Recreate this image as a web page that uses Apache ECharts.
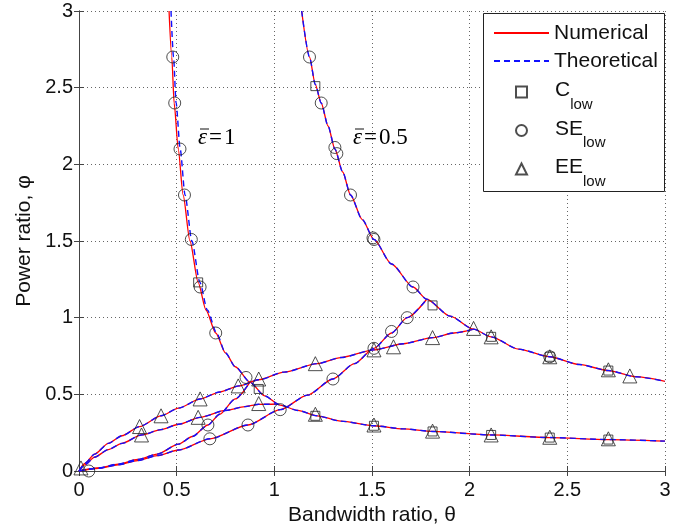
<!DOCTYPE html>
<html>
<head>
<meta charset="utf-8">
<script src="https://cdn.jsdelivr.net/npm/echarts@6/dist/echarts.min.js"></script>
<style>html,body{margin:0;padding:0;background:#fff}#c{width:683px;height:529px}</style>
</head>
<body>
<div id="c"></div>
<script>
// ---- data ----
const xTicks = [0, 0.5, 1, 1.5, 2, 2.5, 3];
const yTicks = [0, 0.5, 1, 1.5, 2, 2.5, 3];

// epsilon = 1, decreasing branch (numerical)
const eps1Num = [[0.461,3.0],[0.475,2.7],[0.487,2.4],[0.508,2.1],[0.533,1.8],[0.568,1.5],[0.61,1.23],[0.65,1.05],[0.70,0.90],[0.75,0.77],[0.80,0.68],[0.875,0.58],[0.95,0.49],[1.03,0.43],[1.12,0.395],[1.22,0.36],[1.34,0.325],[1.51,0.295],[1.66,0.275],[1.81,0.258],[2.11,0.235],[2.41,0.218],[2.71,0.205],[3.0,0.195]];
// epsilon = 1, decreasing branch (theoretical)
const eps1Theo = [[0.471,3.0],[0.484,2.7],[0.497,2.4],[0.518,2.1],[0.543,1.8],[0.578,1.5],[0.619,1.23],[0.657,1.05],[0.704,0.90],[0.75,0.77],[0.80,0.68],[0.875,0.58],[0.95,0.49],[1.03,0.43],[1.12,0.395],[1.22,0.36],[1.34,0.325],[1.51,0.295],[1.66,0.275],[1.81,0.258],[2.11,0.235],[2.41,0.218],[2.71,0.205],[3.0,0.195]];
// epsilon = 0.5, decreasing branch
const eps05 = [[1.14,3.0],[1.18,2.70],[1.21,2.52],[1.24,2.40],[1.275,2.25],[1.31,2.10],[1.35,1.95],[1.39,1.80],[1.45,1.64],[1.51,1.51],[1.6,1.35],[1.71,1.20],[1.78,1.12],[1.9,1.01],[2.02,0.925],[2.11,0.875],[2.25,0.795],[2.41,0.745],[2.56,0.695],[2.71,0.655],[2.85,0.615],[3.0,0.585]];
// rising branches from the origin
const eeEps05 = [[0,0],[0.03,0.05],[0.08,0.11],[0.15,0.18],[0.22,0.23],[0.31,0.29],[0.42,0.36],[0.51,0.41],[0.62,0.47],[0.72,0.515],[0.82,0.555],[0.92,0.595],[1.05,0.645],[1.22,0.70],[1.34,0.74],[1.51,0.79],[1.66,0.83],[1.81,0.87],[1.92,0.90],[2.02,0.925]];
const eeEps1 = [[0,0],[0.03,0.04],[0.08,0.09],[0.15,0.14],[0.22,0.18],[0.32,0.235],[0.42,0.27],[0.51,0.305],[0.62,0.35],[0.75,0.395],[0.85,0.42],[0.92,0.435],[1.02,0.437]];
const seEps1 = [[0,0],[0.1,0.02],[0.2,0.045],[0.3,0.075],[0.4,0.11],[0.51,0.175],[0.58,0.225],[0.66,0.30],[0.72,0.37],[0.8,0.47],[0.875,0.58]];
const seEps05 = [[0,0],[0.1,0.018],[0.2,0.04],[0.3,0.068],[0.4,0.10],[0.51,0.137],[0.67,0.21],[0.865,0.30],[1.03,0.40],[1.17,0.495],[1.30,0.60],[1.41,0.70],[1.51,0.80],[1.60,0.90],[1.68,1.00],[1.78,1.12]];

// markers
const cLow = [[0.61,1.23],[0.92,0.535],[1.21,0.36],[1.51,0.295],[1.81,0.258],[2.11,0.235],[2.41,0.218],[2.71,0.205],[1.21,2.51],[1.81,1.08],[2.11,0.875],[2.41,0.745],[2.71,0.655]];
const seLow = [[0.05,0.0],[0.48,2.70],[0.49,2.40],[0.517,2.10],[0.54,1.80],[0.575,1.51],[0.62,1.20],[0.70,0.90],[0.855,0.61],[0.66,0.30],[0.67,0.21],[0.865,0.30],[1.03,0.40],[1.30,0.60],[1.51,0.80],[1.60,0.91],[1.68,1.00],[1.18,2.70],[1.24,2.40],[1.31,2.11],[1.32,2.07],[1.39,1.80],[1.51,1.51],[1.505,1.52],[1.71,1.20],[2.41,0.745]];
const eeLow = [[0.01,0.02],[0.31,0.29],[0.42,0.36],[0.62,0.47],[0.815,0.555],[0.92,0.60],[1.21,0.70],[1.51,0.79],[1.61,0.81],[1.81,0.87],[2.02,0.93],[2.11,0.875],[2.41,0.745],[2.71,0.66],[2.82,0.62],[0.32,0.235],[0.61,0.35],[0.92,0.44],[1.21,0.37],[1.51,0.30],[1.81,0.26],[2.11,0.235],[2.41,0.22],[2.71,0.21]];

const lineLegendNames = ['Numerical', 'Theoretical'];
const markerLegendNames = ['C_low', 'SE_low', 'EE_low'];
const curveLabels = ['1', '0.5'];

// ---- chart ----
const SANS = 'Liberation Sans, Arial, Helvetica, sans-serif';
const SERIF = 'Liberation Serif, Times New Roman, serif';
const chart = echarts.init(document.getElementById('c'), null, {renderer: 'canvas'});

const numCurves = [eps1Num, eps05, eeEps05, eeEps1, seEps1, seEps05];
const theoCurves = [eps1Theo, eps05, eeEps05, eeEps1, seEps1, seEps05];

const series = [];
numCurves.forEach(function (d) {
  series.push({
    name: 'Numerical', type: 'line', data: d, symbol: 'none', smooth: 0.25, smoothMonotone: 'x',
    lineStyle: {color: '#ff0000', width: 1.3, type: 'solid'}, itemStyle: {color: '#ff0000', opacity: 0}, z: 2, animation: false
  });
});
theoCurves.forEach(function (d) {
  series.push({
    name: 'Theoretical', type: 'line', data: d, symbol: 'none', smooth: 0.25, smoothMonotone: 'x',
    lineStyle: {color: '#1010ff', width: 1.4, type: [6, 4]}, itemStyle: {color: '#1010ff', opacity: 0}, z: 3, animation: false
  });
});
const mk = {color: 'rgba(0,0,0,0)', borderColor: '#222', borderWidth: 1};
series.push({name: 'C_low', type: 'scatter', data: cLow, symbol: 'rect', symbolSize: 9, itemStyle: mk, z: 4, animation: false});
series.push({name: 'SE_low', type: 'scatter', data: seLow, symbol: 'circle', symbolSize: 12, itemStyle: mk, z: 4, animation: false});
series.push({name: 'EE_low', type: 'scatter', data: eeLow, symbol: 'triangle', symbolSize: 14, itemStyle: mk, z: 4, animation: false});

const axisCommon = {
  type: 'value', min: 0, max: 3, interval: 0.5,
  axisLine: {show: true, lineStyle: {color: '#444', width: 1}},
  axisTick: {show: true, inside: true, length: 5, lineStyle: {color: '#444'}},
};

function epsLabel(val) {
  return '{e|ε}{q|=}{n|' + val + '}';
}
const epsRich = {
  e: {fontFamily: SERIF, fontSize: 23, fontStyle: 'italic', color: '#111'},
  q: {fontFamily: SERIF, fontSize: 23, color: '#111', padding: [0, 2, 0, 2]},
  n: {fontFamily: SERIF, fontSize: 23, color: '#111'}
};

const legendText = {fontFamily: SANS, fontSize: 21, lineHeight: 24, color: '#111'};

const option = {
  backgroundColor: '#fff',
  animation: false,
  grid: {left: 79, right: 18, top: 11, bottom: 58, containLabel: false, outerBoundsMode: 'none'},
  xAxis: [
    Object.assign({}, axisCommon, {
      position: 'bottom',
      axisLabel: {fontFamily: SANS, fontSize: 20, color: '#111', margin: 9,
        formatter: function (v) { return String(v); }},
      splitLine: {show: true, lineStyle: {color: '#666', type: [1, 3], width: 1}},
      name: 'Bandwidth ratio, θ', nameLocation: 'middle', nameGap: 34,
      nameTextStyle: {fontFamily: SANS, fontSize: 21, color: '#111'}
    }),
    Object.assign({}, axisCommon, {position: 'top', axisLabel: {show: false}, splitLine: {show: false}})
  ],
  yAxis: [
    Object.assign({}, axisCommon, {
      position: 'left',
      axisLabel: {fontFamily: SANS, fontSize: 20, color: '#111', margin: 6,
        formatter: function (v) { return String(v); }},
      splitLine: {show: true, lineStyle: {color: '#666', type: [1, 3], width: 1}},
      name: 'Power ratio, φ', nameLocation: 'middle', nameGap: 44,
      nameTextStyle: {fontFamily: SANS, fontSize: 21, color: '#111'}
    }),
    Object.assign({}, axisCommon, {position: 'right', axisLabel: {show: false}, splitLine: {show: false}})
  ],
  legend: [
    {
      data: lineLegendNames,
      orient: 'vertical',
      left: 493, top: 21,
      itemWidth: 55, itemHeight: 11, itemGap: 4,
      padding: 0,
      selectedMode: false,
      textStyle: legendText
    },
    {
      data: markerLegendNames,
      orient: 'vertical',
      left: 515, top: 80,
      itemWidth: 11, itemHeight: 11, itemGap: 6.5,
      padding: 0,
      selectedMode: false,
      textStyle: Object.assign({}, legendText, {
        rich: {
          m: {fontFamily: SANS, fontSize: 21, lineHeight: 24, color: '#111', verticalAlign: 'top', padding: [0, 0, 0, 23]},
          s: {fontFamily: SANS, fontSize: 15, lineHeight: 17, color: '#111', verticalAlign: 'top', padding: [17, 0, 0, 0]}
        }
      }),
      formatter: function (name) {
        const p = name.split('_');
        return '{m|' + p[0] + '}{s|' + p[1] + '}';
      }
    }
  ],
  graphic: [
    {type: 'rect', z: 3, shape: {x: 483.5, y: 13.5, width: 181, height: 178},
      style: {fill: '#fff', stroke: '#222', lineWidth: 1}},
    {type: 'group', x: 198, y: 138, z: 10, children: [
      {type: 'text', x: 0, y: 0, style: {text: epsLabel(curveLabels[0]), verticalAlign: 'middle', rich: epsRich}},
      {type: 'line', shape: {x1: 2, y1: -9, x2: 11, y2: -9}, style: {stroke: '#111', lineWidth: 1}}
    ]},
    {type: 'group', x: 353, y: 138, z: 10, children: [
      {type: 'text', x: 0, y: 0, style: {text: epsLabel(curveLabels[1]), verticalAlign: 'middle', rich: epsRich}},
      {type: 'line', shape: {x1: 2, y1: -9, x2: 11, y2: -9}, style: {stroke: '#111', lineWidth: 1}}
    ]}
  ],
  series: series
};
chart.setOption(option);
</script>
</body>
</html>
